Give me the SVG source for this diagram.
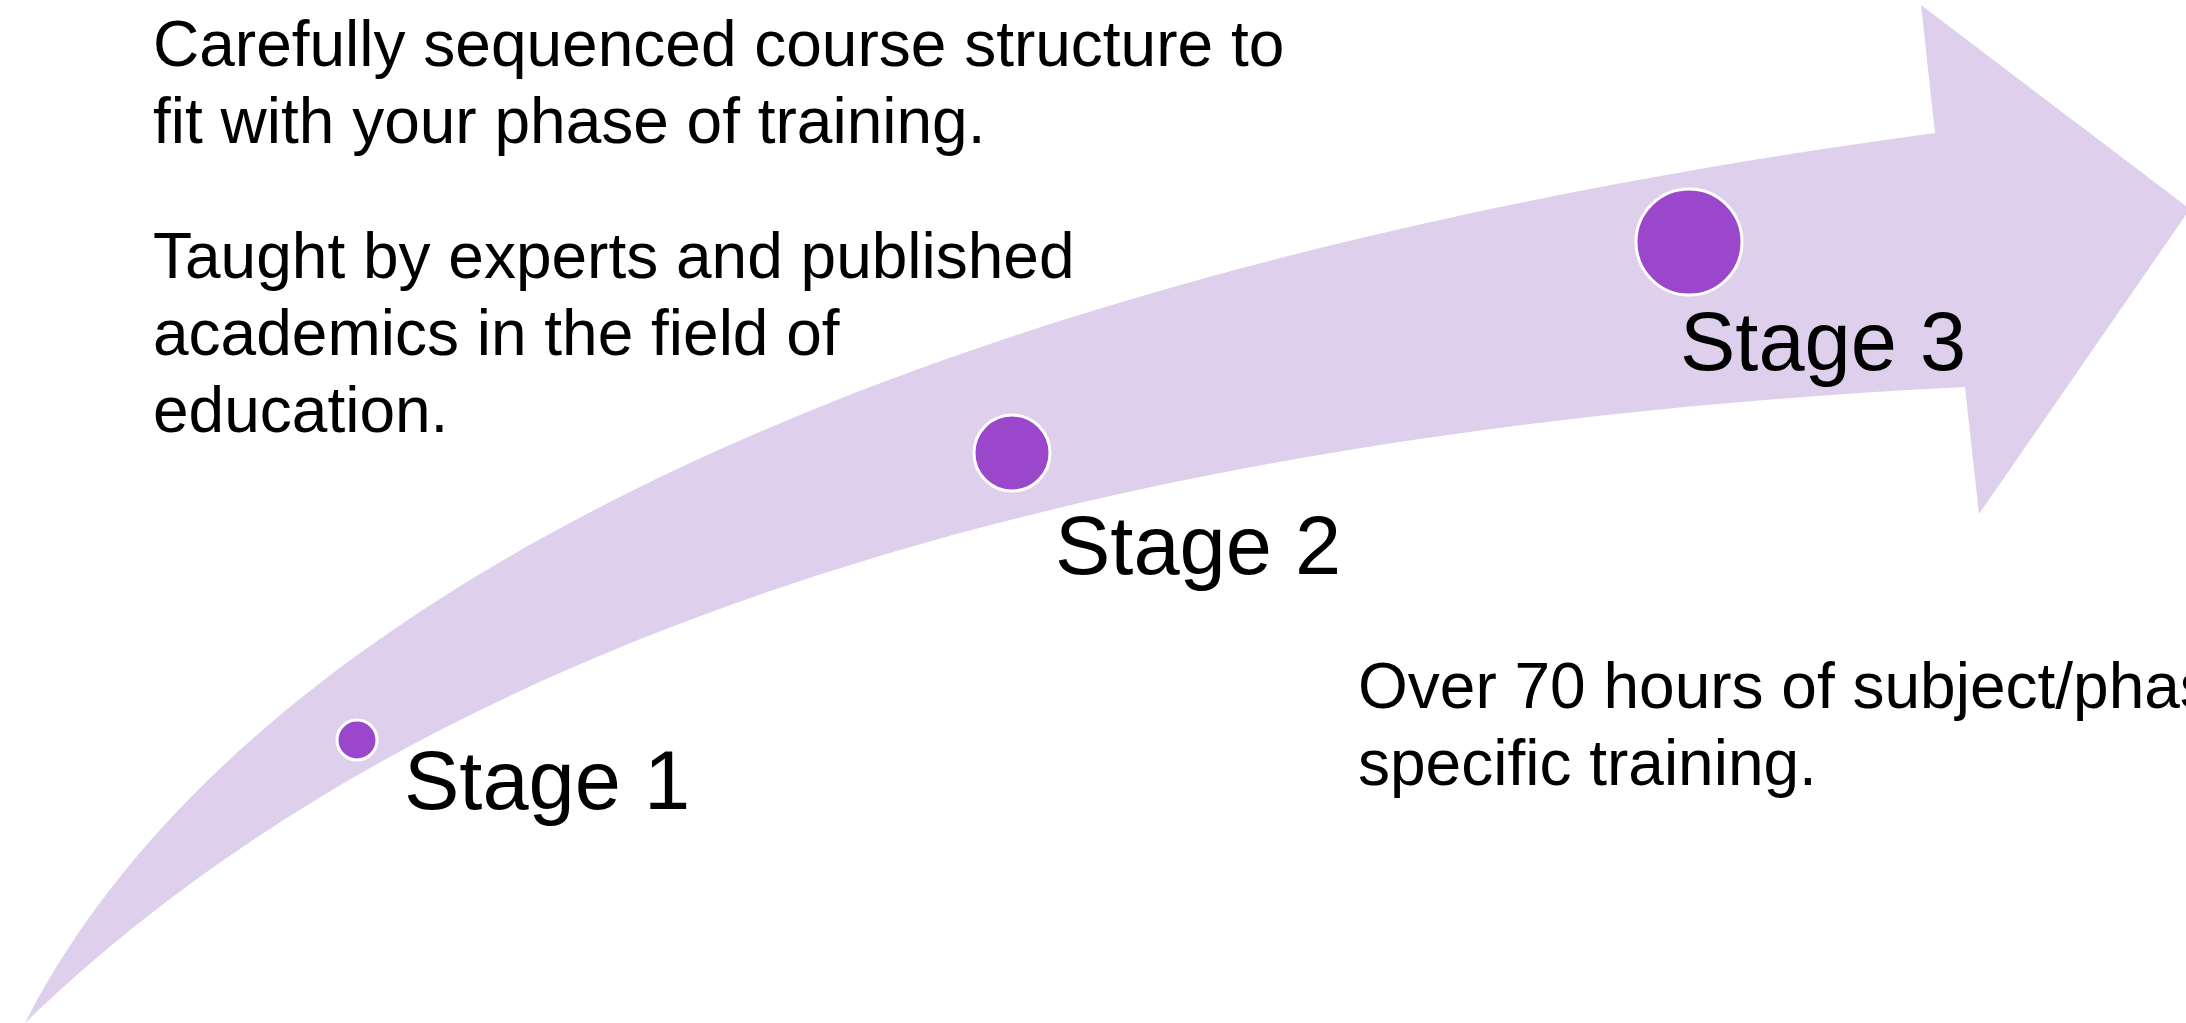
<svg xmlns="http://www.w3.org/2000/svg" width="2186" height="1023" viewBox="0 0 2186 1023">
<style>
.body{font-family:"Liberation Sans",Arial,sans-serif;font-size:64px;fill:#000}
.stage{font-family:"Liberation Sans",Arial,sans-serif;font-size:83px;fill:#000}
.dot{fill:#9B47CC;stroke:#ffffff;stroke-width:3}
.arrow{fill:#DED0EC}
</style>
<rect width="2186" height="1023" fill="#ffffff"/>
<g id="connectors">
<path class="arrow" d="M 25 1023 C 230 620, 850 280, 1935 133 L 1921 5 L 2190 209 L 1979 514 L 1965 387 C 1100 430, 430 630, 25 1023 Z"/>
</g>
<g id="text-sequence">
<text class="body" x="153" y="66">Carefully sequenced course structure to</text>
<text class="body" x="153" y="143">fit with your phase of training.</text>
</g>
<g id="text-experts">
<text class="body" x="153" y="278">Taught by experts and published</text>
<text class="body" x="153" y="355">academics in the field of</text>
<text class="body" x="153" y="432">education.</text>
</g>
<g id="text-hours">
<text class="body" x="1358" y="708">Over 70 hours of subject/phase</text>
<text class="body" x="1358" y="785">specific training.</text>
</g>
<g id="stage1">
<circle class="dot" cx="357" cy="740" r="20"/>
<text class="stage" x="404" y="809">Stage 1</text>
</g>
<g id="stage2">
<circle class="dot" cx="1012" cy="453" r="38"/>
<text class="stage" x="1055" y="574">Stage 2</text>
</g>
<g id="stage3">
<circle class="dot" cx="1689" cy="242" r="53"/>
<text class="stage" x="1680" y="370">Stage 3</text>
</g>
</svg>
